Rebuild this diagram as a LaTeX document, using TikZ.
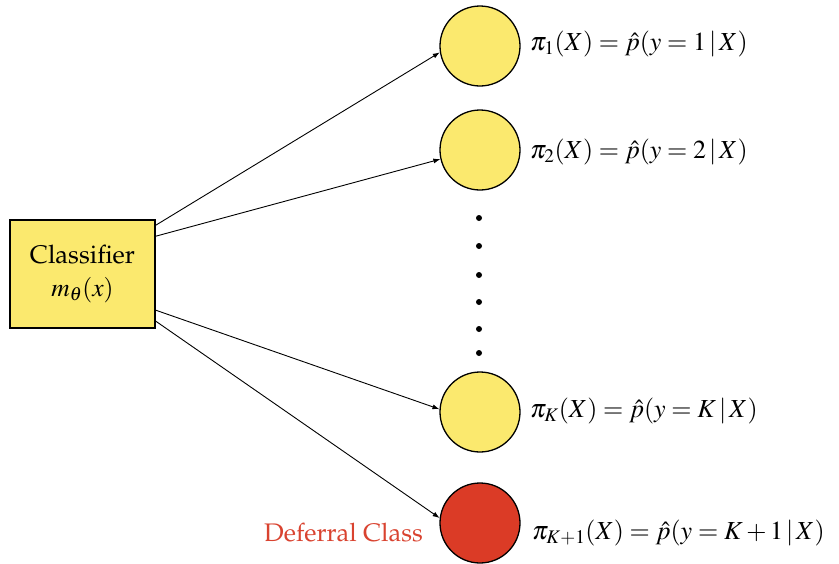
\documentclass[tikz,border=0pt]{standalone}
\usepackage[T1]{fontenc}
\usepackage{mathptmx}
\renewcommand{\rmdefault}{ppl}
\usetikzlibrary{calc,arrows.meta}
\definecolor{cyellow}{HTML}{FBE96E}
\definecolor{cred}{HTML}{DB3B26}
\definecolor{tred}{HTML}{D94330}
\tikzset{
  clsbox/.style={draw=black,line width=1.6pt,fill=cyellow,minimum width=145pt,minimum height=108pt,inner sep=0pt,align=center,font=\fontsize{25.5}{33}\selectfont},
  outc/.style={circle,draw=black,line width=1.3pt,minimum size=80pt,inner sep=0pt},
  lbl/.style={anchor=west,inner sep=0pt,font=\fontsize{26}{31}\selectfont},
  arr/.style={-{Latex[length=7pt,width=5pt]},line width=0.9pt},
  dotc/.style={circle,fill=black,minimum size=6pt,inner sep=0pt}
}
\begin{document}
\begin{tikzpicture}[x=1pt,y=-1pt]
\useasboundingbox (0,0) rectangle (839,563);
\node[clsbox] (box) at (82.5,274) {Classifier\\$m_\theta(x)$};
\node[outc,fill=cyellow] (c1) at (480,46) {};
\node[outc,fill=cyellow] (c2) at (480,150) {};
\node[outc,fill=cyellow] (cK) at (480,412) {};
\node[outc,fill=cred] (cK1) at (480,523) {};
\foreach \y/\n in {218/d1,246/d2,275/d3,302/d4,329/d5,353/d6}
  \node[dotc] (\n) at (479,\y) {};
\node[lbl] (l1) at (530,44) {$\pi_1(X) = \hat{p}(y = 1\,|\,X)$};
\node[lbl] (l2) at (530,152) {$\pi_2(X) = \hat{p}(y = 2\,|\,X)$};
\node[lbl] (lK) at (530,411) {$\pi_K(X) = \hat{p}(y = K\,|\,X)$};
\node[lbl] (lK1) at (532,533) {$\pi_{K+1}(X) = \hat{p}(y = K+1\,|\,X)$};
\node[anchor=east,inner sep=0pt,text=tred,font=\fontsize{25.4}{30}\selectfont] (def) at (423,533) {Deferral Class};
\draw[arr] ($(box.north east)+(0,6)$) -- (c1.189);
\draw[arr] ($(box.north east)+(0,17)$) -- (c2.193);
\draw[arr] ($(box.north east)+(0,91)$) -- (cK.176);
\draw[arr] ($(box.north east)+(0,102)$) -- (cK1.173);
\end{tikzpicture}
\end{document}
